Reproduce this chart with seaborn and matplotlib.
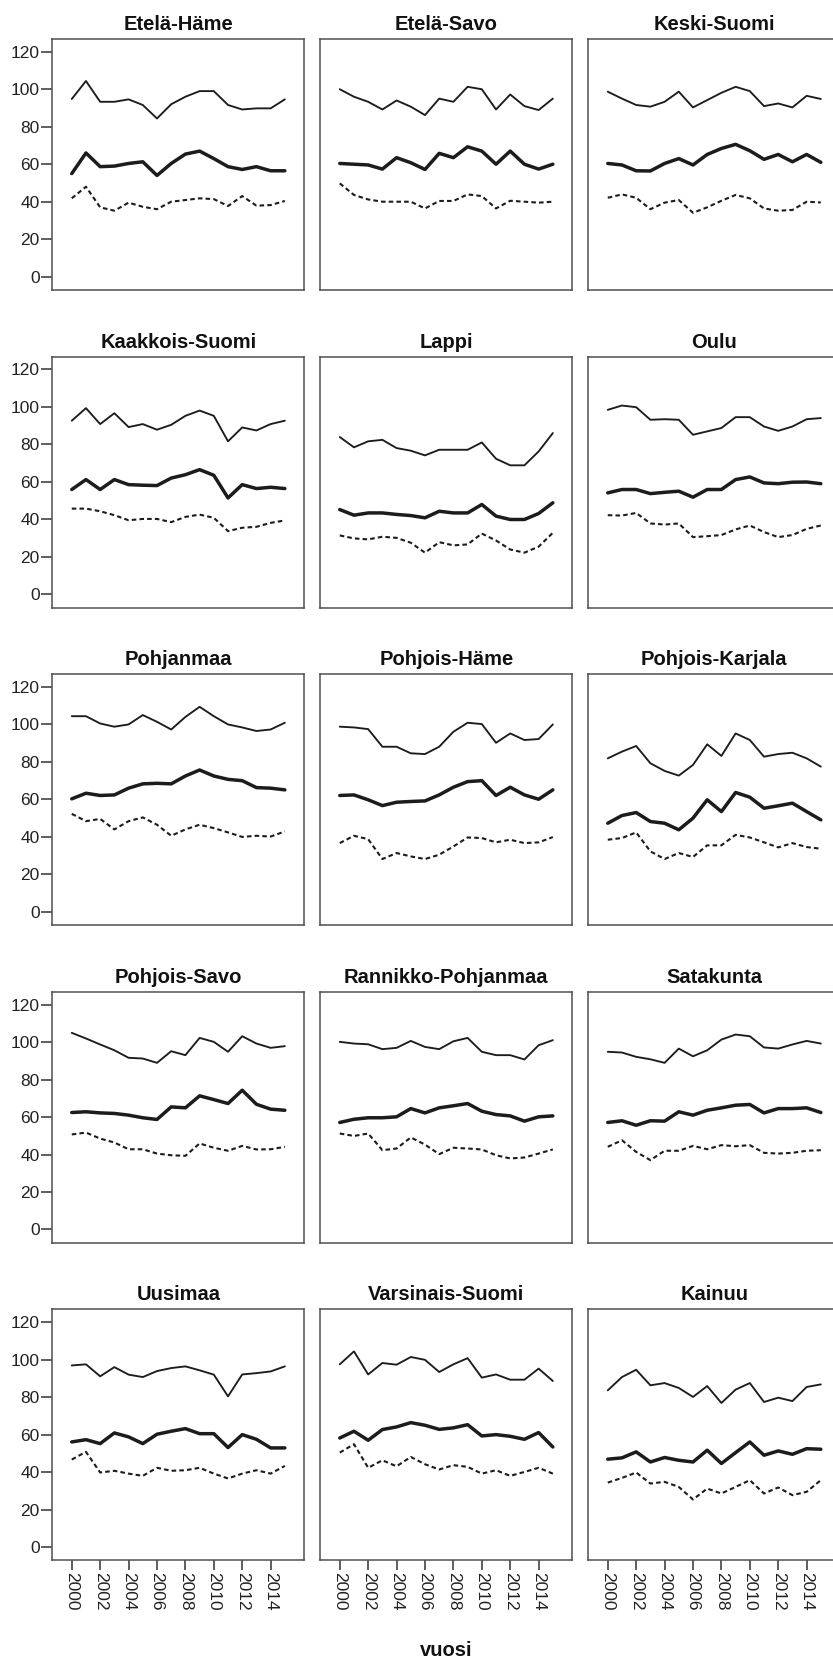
import matplotlib
matplotlib.use("Agg")
import matplotlib.pyplot as plt
import seaborn as sns
import pandas as pd
import numpy as np

years = list(range(2000, 2016))
regions = ["Etelä-Häme", "Etelä-Savo", "Keski-Suomi",
           "Kaakkois-Suomi", "Lappi", "Oulu",
           "Pohjanmaa", "Pohjois-Häme", "Pohjois-Karjala",
           "Pohjois-Savo", "Rannikko-Pohjanmaa", "Satakunta",
           "Uusimaa", "Varsinais-Suomi", "Kainuu"]

upper = {
    "Etelä-Häme": [94.8, 104.4, 93.3, 93.3, 94.6, 91.6, 84.4, 92.0, 96.0, 99.0, 99.0, 91.6, 89.2, 89.8, 89.8, 94.6],
    "Etelä-Savo": [100.0, 96.0, 93.3, 89.2, 94.0, 90.7, 86.2, 95.0, 93.3, 101.3, 100.0, 89.2, 97.2, 91.0, 88.9, 95.0],
    "Keski-Suomi": [98.7, 95.0, 91.6, 90.7, 93.3, 98.7, 90.3, 94.2, 98.1, 101.3, 99.0, 91.0, 92.4, 90.3, 96.5, 94.8],
    "Kaakkois-Suomi": [92.6, 99.3, 90.8, 96.6, 89.2, 90.8, 87.8, 90.4, 95.2, 98.0, 95.2, 81.6, 89.0, 87.4, 90.8, 92.6],
    "Lappi": [83.9, 78.4, 81.6, 82.4, 78.0, 76.6, 74.1, 77.1, 77.1, 77.1, 81.0, 72.3, 68.8, 68.8, 76.2, 86.0],
    "Oulu": [98.4, 100.7, 99.8, 93.1, 93.4, 93.1, 85.1, 86.9, 88.7, 94.5, 94.5, 89.5, 87.2, 89.5, 93.4, 94.0],
    "Pohjanmaa": [104.4, 104.4, 100.5, 98.8, 100.0, 105.0, 101.4, 97.3, 104.0, 109.4, 104.4, 100.0, 98.4, 96.5, 97.3, 100.9],
    "Pohjois-Häme": [98.8, 98.4, 97.5, 88.1, 88.1, 84.6, 84.2, 88.1, 96.1, 100.9, 100.2, 90.2, 95.2, 91.7, 92.2, 100.0],
    "Pohjois-Karjala": [81.9, 85.5, 88.5, 79.3, 75.2, 72.7, 78.4, 89.4, 83.2, 95.2, 91.7, 82.8, 84.2, 84.9, 81.9, 77.5],
    "Pohjois-Savo": [104.9, 101.9, 98.7, 95.6, 91.6, 91.2, 88.9, 95.1, 93.0, 102.2, 100.1, 94.8, 103.1, 99.2, 96.9, 97.8],
    "Rannikko-Pohjanmaa": [100.1, 99.2, 98.8, 96.2, 96.9, 100.6, 97.4, 96.2, 100.4, 102.2, 94.8, 93.0, 93.0, 90.7, 98.3, 101.0],
    "Satakunta": [94.8, 94.4, 92.1, 90.8, 88.9, 96.5, 92.4, 95.6, 101.3, 104.0, 103.1, 97.1, 96.5, 98.7, 100.6, 99.2],
    "Uusimaa": [96.9, 97.5, 91.1, 96.0, 92.0, 90.7, 93.9, 95.5, 96.4, 94.3, 92.0, 80.4, 92.1, 92.8, 93.7, 96.4],
    "Varsinais-Suomi": [97.5, 104.4, 92.1, 98.2, 97.3, 101.4, 99.9, 93.4, 97.5, 100.8, 90.4, 92.1, 89.3, 89.3, 95.2, 88.6],
    "Kainuu": [83.6, 90.7, 94.6, 86.3, 87.5, 84.9, 80.1, 85.9, 76.9, 84.0, 87.5, 77.4, 79.7, 77.9, 85.4, 86.8],
}

middle = {
    "Etelä-Häme": [55.0, 66.0, 58.7, 59.0, 60.4, 61.3, 54.0, 60.4, 65.4, 67.0, 63.0, 58.7, 57.2, 58.7, 56.5, 56.5],
    "Etelä-Savo": [60.4, 60.0, 59.6, 57.4, 63.5, 60.8, 57.2, 65.8, 63.5, 69.3, 67.0, 60.0, 67.0, 60.0, 57.4, 60.0],
    "Keski-Suomi": [60.4, 59.6, 56.5, 56.4, 60.4, 63.0, 59.6, 65.2, 68.4, 70.6, 67.2, 62.6, 65.2, 61.3, 65.2, 61.0],
    "Kaakkois-Suomi": [55.9, 61.2, 55.9, 61.2, 58.5, 58.2, 58.0, 62.0, 63.8, 66.5, 63.5, 51.4, 58.5, 56.4, 57.1, 56.4],
    "Lappi": [45.2, 42.2, 43.4, 43.4, 42.6, 42.0, 40.8, 44.3, 43.4, 43.4, 47.9, 41.7, 39.9, 39.9, 43.1, 48.8],
    "Oulu": [54.1, 55.9, 55.9, 53.7, 54.4, 55.0, 51.8, 55.9, 55.9, 61.2, 62.6, 59.4, 59.0, 59.8, 59.9, 59.0],
    "Pohjanmaa": [60.3, 63.3, 62.1, 62.4, 66.0, 68.3, 68.6, 68.3, 72.5, 75.7, 72.5, 70.7, 70.0, 66.3, 66.0, 65.1],
    "Pohjois-Häme": [62.1, 62.4, 59.8, 56.7, 58.5, 58.9, 59.2, 62.4, 66.5, 69.5, 70.0, 62.1, 66.5, 62.4, 60.1, 65.1],
    "Pohjois-Karjala": [47.3, 51.4, 53.0, 48.2, 47.3, 43.8, 50.0, 59.8, 53.5, 63.7, 61.2, 55.3, 56.6, 58.0, 53.5, 49.1],
    "Pohjois-Savo": [62.4, 62.8, 62.2, 61.9, 61.0, 59.6, 58.7, 65.4, 64.9, 71.3, 69.3, 67.2, 74.3, 66.8, 64.2, 63.6],
    "Rannikko-Pohjanmaa": [57.1, 58.8, 59.6, 59.6, 60.1, 64.5, 62.2, 64.9, 66.0, 67.2, 63.1, 61.3, 60.6, 57.8, 60.1, 60.6],
    "Satakunta": [57.1, 58.0, 55.6, 58.0, 57.8, 62.8, 61.0, 63.6, 64.9, 66.3, 66.7, 62.2, 64.5, 64.5, 64.9, 62.4],
    "Uusimaa": [56.1, 57.3, 55.2, 60.9, 58.8, 55.2, 60.2, 61.8, 63.2, 60.5, 60.5, 53.1, 60.0, 57.5, 52.9, 52.9],
    "Varsinais-Suomi": [58.2, 61.8, 57.0, 62.7, 64.1, 66.4, 65.0, 62.8, 63.6, 65.3, 59.3, 60.0, 59.1, 57.5, 61.1, 53.4],
    "Kainuu": [46.9, 47.6, 50.8, 45.4, 47.8, 46.3, 45.4, 51.7, 44.6, 50.4, 56.1, 49.0, 51.3, 49.5, 52.5, 52.2],
}

lower = {
    "Etelä-Häme": [41.8, 48.0, 37.0, 35.2, 39.5, 37.3, 36.0, 40.0, 40.9, 41.8, 41.4, 37.7, 43.0, 37.9, 38.2, 40.4],
    "Etelä-Savo": [49.8, 43.6, 41.2, 40.0, 40.0, 40.0, 36.4, 40.4, 40.4, 43.9, 43.0, 36.4, 40.5, 40.0, 39.5, 40.0],
    "Keski-Suomi": [42.1, 43.9, 42.1, 36.0, 39.5, 40.9, 34.1, 37.0, 40.5, 43.6, 41.8, 36.4, 35.2, 35.6, 40.0, 39.6],
    "Kaakkois-Suomi": [45.7, 45.7, 44.3, 42.2, 39.5, 40.2, 40.2, 38.5, 41.3, 42.5, 40.8, 33.7, 35.5, 36.0, 38.1, 39.4],
    "Lappi": [31.4, 29.8, 29.3, 30.7, 30.1, 27.5, 22.2, 27.8, 26.1, 26.6, 32.4, 28.7, 23.9, 22.2, 25.4, 32.8],
    "Oulu": [42.2, 42.0, 43.4, 37.8, 37.2, 37.8, 30.5, 31.0, 31.6, 34.6, 36.7, 33.2, 30.5, 31.6, 34.9, 36.7],
    "Pohjanmaa": [52.3, 48.4, 49.6, 44.0, 48.4, 50.4, 46.5, 40.6, 44.0, 46.5, 44.7, 42.4, 40.0, 40.6, 40.2, 42.9],
    "Pohjois-Häme": [36.7, 40.6, 38.8, 28.2, 31.4, 29.6, 28.2, 30.5, 34.9, 39.7, 39.4, 37.1, 38.5, 36.7, 37.1, 39.9],
    "Pohjois-Karjala": [38.5, 39.4, 42.4, 32.3, 28.2, 31.4, 29.3, 35.5, 35.5, 41.1, 39.7, 37.1, 34.4, 36.7, 34.6, 33.7],
    "Pohjois-Savo": [50.7, 51.7, 48.5, 46.4, 42.8, 42.8, 40.5, 39.6, 39.3, 45.9, 43.6, 42.0, 44.6, 42.7, 42.8, 44.1],
    "Rannikko-Pohjanmaa": [51.2, 49.9, 51.2, 42.3, 43.2, 49.1, 45.3, 40.2, 43.6, 43.2, 42.7, 39.6, 37.9, 38.4, 40.5, 42.7],
    "Satakunta": [44.1, 47.6, 41.4, 37.0, 42.0, 42.0, 44.6, 42.8, 45.0, 44.4, 45.0, 40.9, 40.5, 40.9, 42.0, 42.3],
    "Uusimaa": [46.7, 50.8, 39.8, 40.7, 39.2, 38.0, 42.3, 40.7, 41.0, 42.3, 39.2, 36.6, 39.2, 41.0, 39.2, 43.3],
    "Varsinais-Suomi": [50.4, 54.9, 42.3, 46.3, 43.1, 48.1, 44.2, 41.4, 43.7, 42.8, 39.2, 41.0, 38.0, 40.1, 42.3, 39.2],
    "Kainuu": [34.4, 36.9, 39.8, 33.9, 34.8, 32.1, 25.4, 31.2, 28.6, 32.1, 35.7, 28.6, 31.8, 27.7, 29.5, 35.7],
}

y_ticks = [0, 20, 40, 60, 80, 100, 120]
x_ticks = [2000, 2002, 2004, 2006, 2008, 2010, 2012, 2014]
x_label = "vuosi"

sns.set_style("white")
plt.rcParams["font.family"] = ["Liberation Sans", "DejaVu Sans"]

W, H = 833, 1661
fig = plt.figure(figsize=(W / 100, H / 100), dpi=100)

col_left = [52.3, 320.3, 588.3]
row_top = [39.0, 356.6, 674.2, 991.8, 1309.4]
aw, ah = 252.0, 251.0
line_col = "#1c1c1c"
frame_col = "#505050"

for i, reg in enumerate(regions):
    r, c = divmod(i, 3)
    x0 = col_left[c]
    y0 = row_top[r]
    ax = fig.add_axes([x0 / W, 1 - (y0 + ah) / H, aw / W, ah / H])
    sns.lineplot(x=years, y=upper[reg], ax=ax, color=line_col, linewidth=1.35)
    sns.lineplot(x=years, y=middle[reg], ax=ax, color=line_col, linewidth=2.5)
    sns.lineplot(x=years, y=lower[reg], ax=ax, color=line_col, linewidth=1.5,
                 linestyle=(0, (2.2, 1.5)))
    ax.set_xlim(1998.63, 2016.37)
    ax.set_ylim(-7.1, 126.8)
    for sp in ax.spines.values():
        sp.set_visible(True)
        sp.set_color(frame_col)
        sp.set_linewidth(1.1)
    ax.set_title(reg, fontsize=14.5, fontweight="bold", pad=6.5, color="#111111")
    ax.set_xlabel("")
    ax.set_ylabel("")
    if c == 0:
        ax.set_yticks(y_ticks)
        ax.set_yticklabels([str(v) for v in y_ticks])
        ax.tick_params(axis="y", left=True, length=8, width=1.1, color="#333333",
                       pad=1, labelsize=12.5, labelcolor="#222222")
    else:
        ax.set_yticks([])
    if r == 4:
        ax.set_xticks(x_ticks)
        ax.set_xticklabels([str(v) for v in x_ticks], rotation=270)
        ax.tick_params(axis="x", bottom=True, length=7, width=1.1, color="#333333",
                       pad=1, labelsize=12.5, labelcolor="#222222")
    else:
        ax.set_xticks([])

fig.text(446 / W, 1 - 1650 / H, x_label, ha="center", va="center",
         fontsize=14.5, fontweight="bold", color="#111111")

fig.savefig("out.png", dpi=100)
